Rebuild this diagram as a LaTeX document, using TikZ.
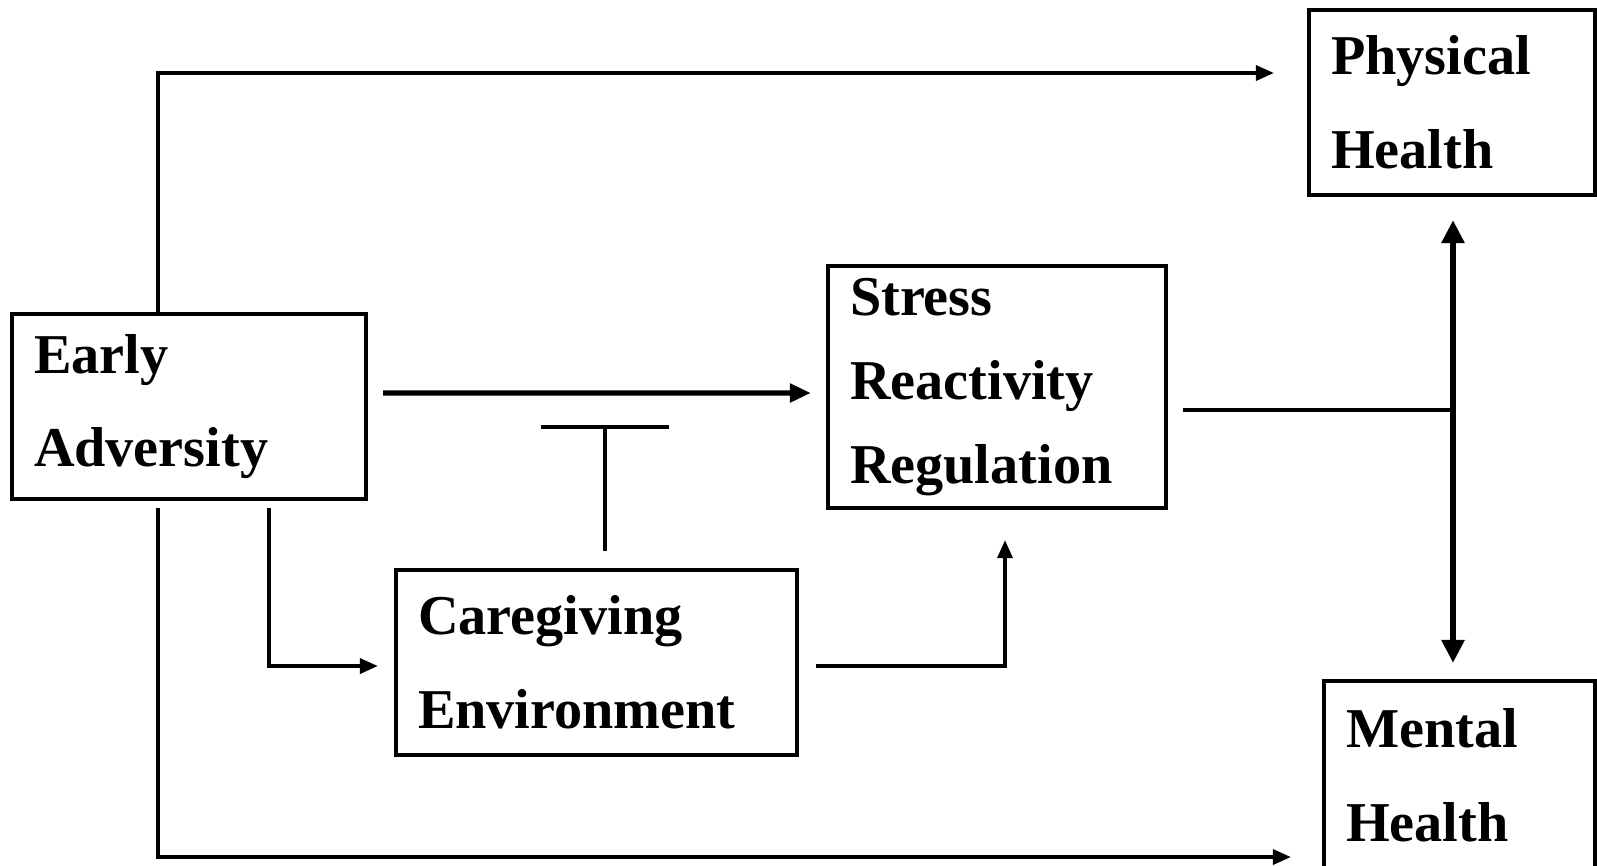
\documentclass[tikz,border=0pt]{standalone}
\usepackage{fontspec}
\setmainfont{Liberation Serif}
\usetikzlibrary{arrows.meta}

\begin{document}
\begin{tikzpicture}
			\tikzstyle{block} = [rectangle, draw=black, line width=1.2pt, inner xsep=2.2mm, inner ysep=0pt, align=left, font=\fontsize{16}{26.7}\selectfont\bfseries];
			\tikzstyle{link} = [draw=black, line width=1pt, -{Triangle[length=1.8mm,width=1.5mm]}];
			\useasboundingbox (0,0) rectangle (15.97,-8.65);
			\draw node [block, minimum height=1.85cm, text width=3.10cm] (early) at (1.89,-4.065) {Early\\Adversity};
			\draw node [block, minimum height=1.85cm, text width=3.57cm] (care) at (5.965,-6.625) {Caregiving\\Environment};
			\draw node [block, minimum height=2.42cm, text width=2.94cm, font=\fontsize{16}{23.9}\selectfont\bfseries] (stress) at (9.97,-3.87) {Stress\\Reactivity\\Regulation};
			\draw node [block, minimum height=1.85cm, text width=2.42cm] (phys) at (14.52,-1.025) {Physical\\Health};
			\draw node [block, minimum height=1.88cm, text width=2.27cm] (mental) at (14.595,-7.75) {Mental\\Health};
			
			\coordinate (top) at (1.58,-0.73);
			\coordinate (ec) at (2.69,-6.66);
			\coordinate (cs) at (10.05,-6.66);
			\coordinate (em) at (1.58,-8.57);
			\coordinate (tbar) at (6.05,-4.25);
			\coordinate (jn) at (14.53,-4.10);
			
			\draw [link] (early.north -| top) -- (top) -- ([xshift=-3.3mm]phys.west |- top);
			\draw [link, line width=1.45pt, -{Triangle[length=2.1mm,width=1.8mm]}] ([xshift=1.5mm,yshift=1.35mm]early.east) -- ([xshift=-1.5mm,yshift=-0.6mm]stress.west);
			\draw [draw=black, line width=1pt, -{Bar[width=12.8mm]}] ([yshift=1.7mm]care.north -| tbar) -- (tbar);
			\draw [link] ([yshift=-0.7mm]early.south -| ec) -- (ec) -- ([xshift=-1.6mm]care.west |- ec);
			\draw [link] ([xshift=1.7mm]care.east |- cs) -- (cs) -- ([yshift=-3mm]stress.south -| cs);
			\draw [link] ([yshift=-0.7mm]early.south -| em) -- (em) -- ([xshift=-3.1mm]mental.west |- em);
			\draw [draw=black, line width=1.2pt] ([xshift=1.5mm]stress.east |- jn) -- (jn);
			\draw [draw=black, line width=1.8pt, {Triangle[length=2.3mm,width=2.2mm]}-{Triangle[length=2.3mm,width=2.2mm]}] ([yshift=-2.3mm]phys.south -| jn) -- ([yshift=1.6mm]mental.north -| jn);
			
		\end{tikzpicture}
\end{document}
